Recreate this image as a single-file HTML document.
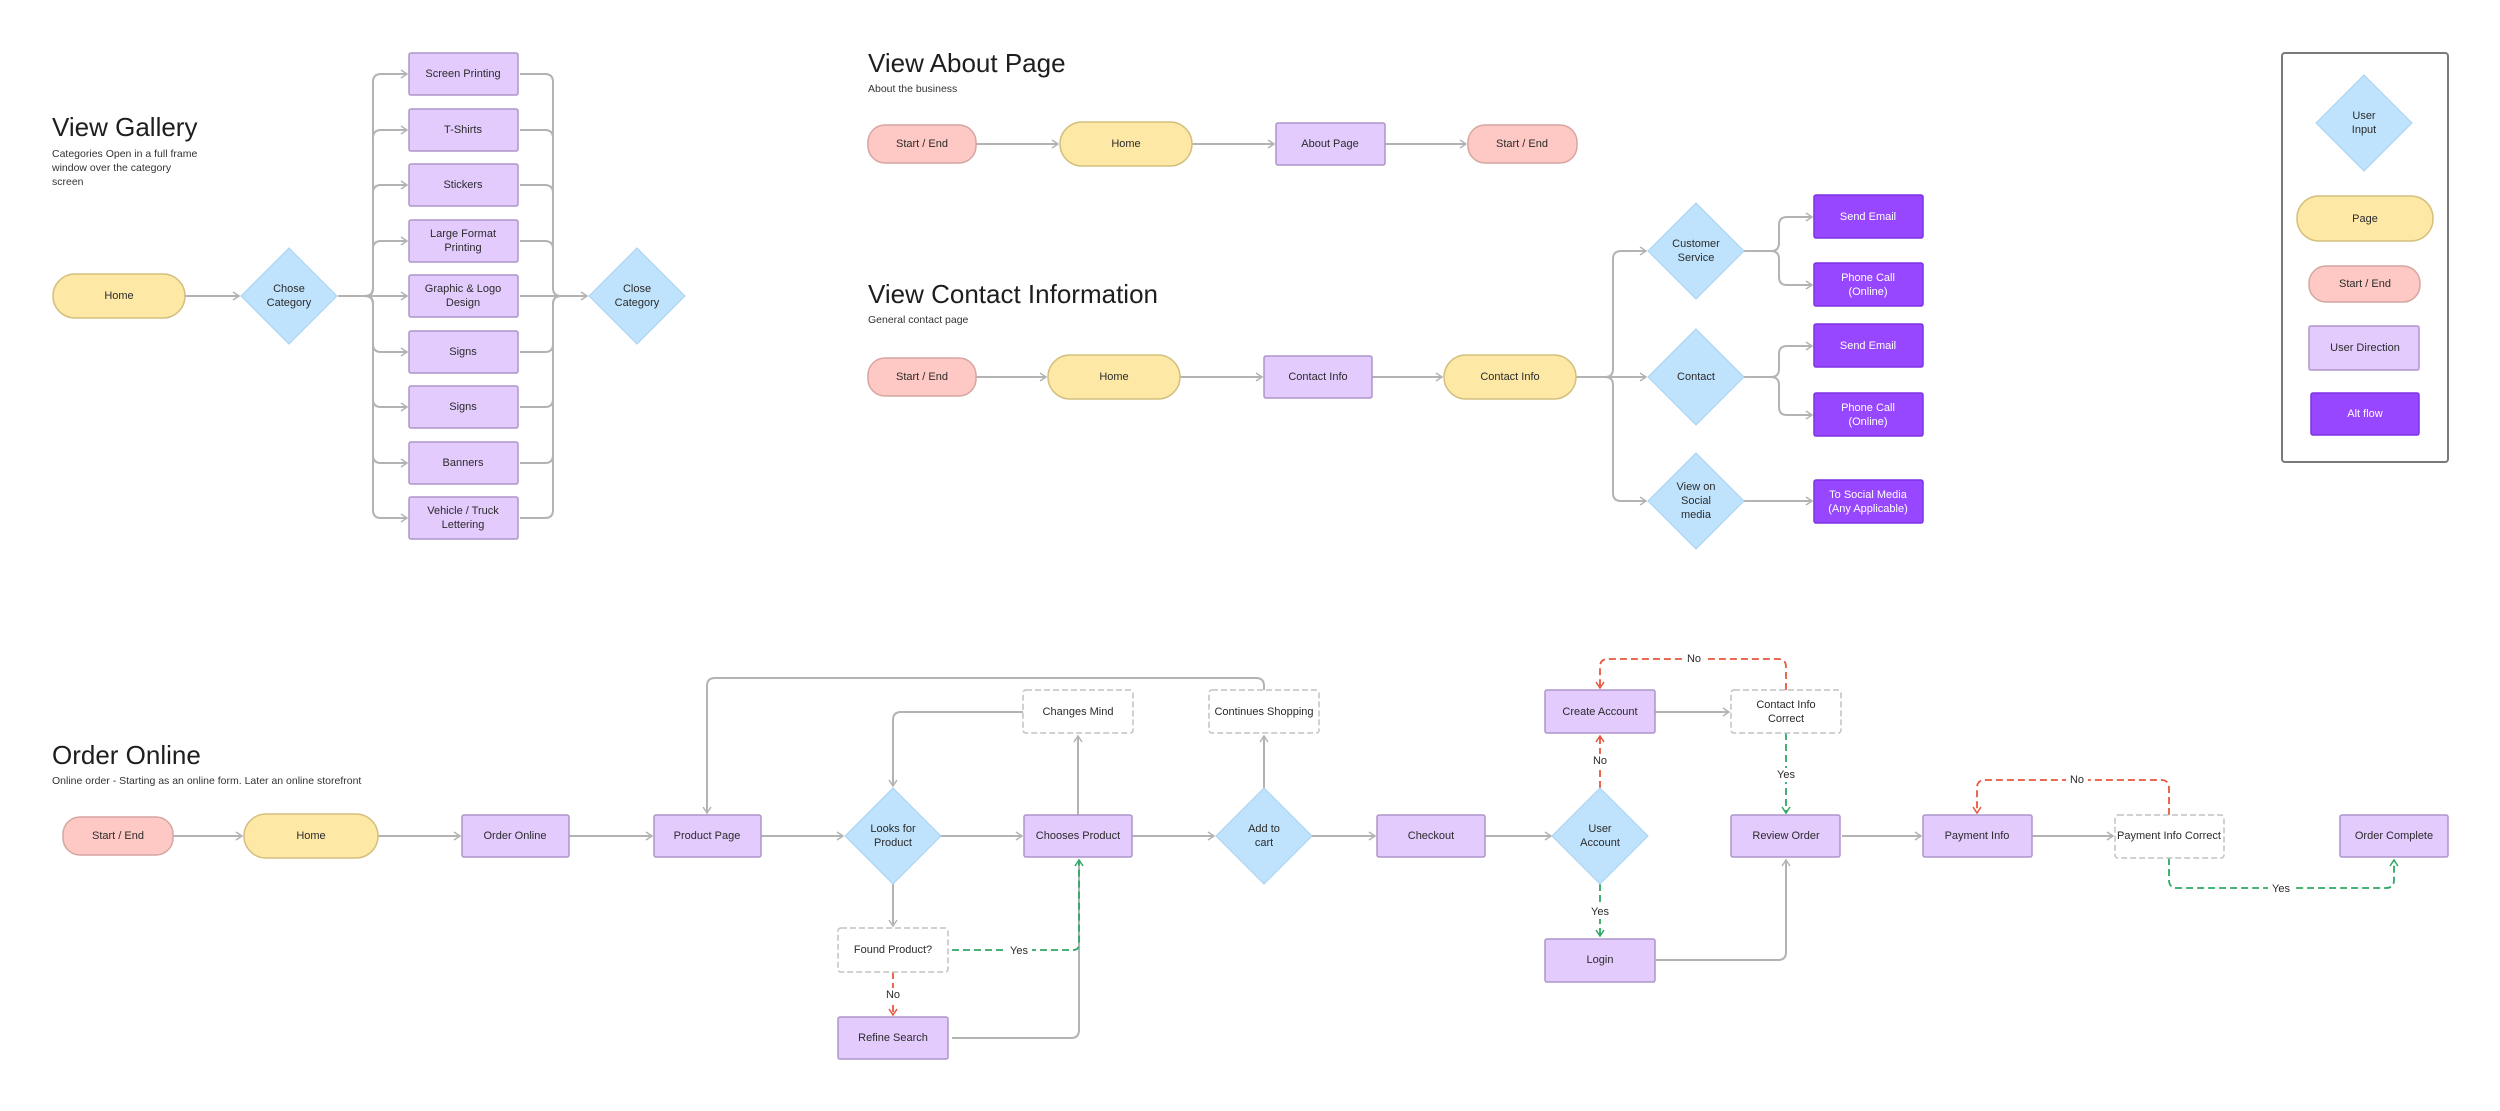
<!DOCTYPE html>
<html><head><meta charset="utf-8"><style>
html,body{margin:0;padding:0;background:#fff;}
svg{display:block;}
text{font-family:"Liberation Sans",sans-serif;fill:#2b2b2b;}
.t{font-size:11px;text-anchor:middle;dominant-baseline:middle;}
.w{fill:#fff;}
.h{font-size:26px;fill:#1e1e1e;}
.s{font-size:10.5px;fill:#333;}
.l{fill:none;stroke:#b3b3b3;stroke-width:2;}
.r{fill:none;stroke:#e5573d;stroke-width:1.8;stroke-dasharray:7 4;}
.g{fill:none;stroke:#2fa864;stroke-width:1.8;stroke-dasharray:7 4;}
.pk{fill:#fec9c4;stroke:#d5a6a1;stroke-width:1.5;}
.yl{fill:#fee8a6;stroke:#d4c07e;stroke-width:1.5;}
.pu{fill:#e3cbfd;stroke:#ad95c9;stroke-width:1.5;}
.dm{fill:#bfe3fd;stroke:#a8d2ef;stroke-width:1;}
.af{fill:#9747ff;stroke:#7e34e3;stroke-width:1.5;}
.db{fill:#fff;stroke:#c2c2c2;stroke-width:1.5;stroke-dasharray:6 3;}
.lbl{font-size:11px;text-anchor:middle;dominant-baseline:middle;}
</style></head><body>
<svg width="2500" height="1111" viewBox="0 0 2500 1111" xmlns="http://www.w3.org/2000/svg">
<defs>
<marker id="a" markerWidth="10" markerHeight="10" refX="7" refY="5" orient="auto" markerUnits="userSpaceOnUse"><path d="M1,1 L7,5 L1,9" fill="none" stroke="#b3b3b3" stroke-width="1.5"/></marker>
<marker id="ar" markerWidth="10" markerHeight="10" refX="7" refY="5" orient="auto" markerUnits="userSpaceOnUse"><path d="M1,1 L7,5 L1,9" fill="none" stroke="#e5573d" stroke-width="1.5"/></marker>
<marker id="ag" markerWidth="10" markerHeight="10" refX="7" refY="5" orient="auto" markerUnits="userSpaceOnUse"><path d="M1,1 L7,5 L1,9" fill="none" stroke="#2fa864" stroke-width="1.5"/></marker>
</defs>

<!-- ===== View Gallery ===== -->
<text class="h" x="52" y="136">View Gallery</text>
<text class="s" x="52" y="157">Categories Open in a full frame</text>
<text class="s" x="52" y="171">window over the category</text>
<text class="s" x="52" y="185">screen</text>

<path class="l" d="M185 296 H239" marker-end="url(#a)"/>
<g class="l">
<path d="M338 296 H365 Q373 296 373 288 V82 Q373 74 381 74 H407" marker-end="url(#a)"/>
<path d="M338 296 H365 Q373 296 373 288 V138 Q373 130 381 130 H407" marker-end="url(#a)"/>
<path d="M338 296 H365 Q373 296 373 288 V193 Q373 185 381 185 H407" marker-end="url(#a)"/>
<path d="M338 296 H365 Q373 296 373 288 V249 Q373 241 381 241 H407" marker-end="url(#a)"/>
<path d="M338 296 H407" marker-end="url(#a)"/>
<path d="M338 296 H365 Q373 296 373 304 V344 Q373 352 381 352 H407" marker-end="url(#a)"/>
<path d="M338 296 H365 Q373 296 373 304 V399 Q373 407 381 407 H407" marker-end="url(#a)"/>
<path d="M338 296 H365 Q373 296 373 304 V455 Q373 463 381 463 H407" marker-end="url(#a)"/>
<path d="M338 296 H365 Q373 296 373 304 V510 Q373 518 381 518 H407" marker-end="url(#a)"/>
<path d="M520 74 H545 Q553 74 553 82 V288 Q553 296 561 296 H587" marker-end="url(#a)"/>
<path d="M520 130 H545 Q553 130 553 138 V288"/>
<path d="M520 185 H545 Q553 185 553 193 V288"/>
<path d="M520 241 H545 Q553 241 553 249 V288"/>
<path d="M520 296 H587"/>
<path d="M520 352 H545 Q553 352 553 344 V304 Q553 296 561 296"/>
<path d="M520 407 H545 Q553 407 553 399 V304"/>
<path d="M520 463 H545 Q553 463 553 455 V304"/>
<path d="M520 518 H545 Q553 518 553 510 V304 Q553 296 561 296"/>
</g>
<rect class="yl" x="53" y="274" width="132" height="44" rx="22"/><text class="t" x="119" y="296">Home</text>
<polygon class="dm" points="289,248 337,296 289,344 241,296"/>
<text class="t" x="289" y="289">Chose</text><text class="t" x="289" y="303">Category</text>
<polygon class="dm" points="637,248 685,296 637,344 589,296"/>
<text class="t" x="637" y="289">Close</text><text class="t" x="637" y="303">Category</text>
<g>
<rect class="pu" x="409" y="53" width="109" height="42" rx="2"/><text class="t" x="463" y="74">Screen Printing</text>
<rect class="pu" x="409" y="109" width="109" height="42" rx="2"/><text class="t" x="463" y="130">T-Shirts</text>
<rect class="pu" x="409" y="164" width="109" height="42" rx="2"/><text class="t" x="463" y="185">Stickers</text>
<rect class="pu" x="409" y="220" width="109" height="42" rx="2"/><text class="t" x="463" y="234">Large Format</text><text class="t" x="463" y="248">Printing</text>
<rect class="pu" x="409" y="275" width="109" height="42" rx="2"/><text class="t" x="463" y="289">Graphic &amp; Logo</text><text class="t" x="463" y="303">Design</text>
<rect class="pu" x="409" y="331" width="109" height="42" rx="2"/><text class="t" x="463" y="352">Signs</text>
<rect class="pu" x="409" y="386" width="109" height="42" rx="2"/><text class="t" x="463" y="407">Signs</text>
<rect class="pu" x="409" y="442" width="109" height="42" rx="2"/><text class="t" x="463" y="463">Banners</text>
<rect class="pu" x="409" y="497" width="109" height="42" rx="2"/><text class="t" x="463" y="511">Vehicle / Truck</text><text class="t" x="463" y="525">Lettering</text>
</g>

<!-- ===== View About Page ===== -->
<text class="h" x="868" y="72">View About Page</text>
<text class="s" x="868" y="92">About the business</text>
<g class="l">
<path d="M976 144 H1058" marker-end="url(#a)"/>
<path d="M1192 144 H1274" marker-end="url(#a)"/>
<path d="M1385 144 H1466" marker-end="url(#a)"/>
</g>
<rect class="pk" x="868" y="125" width="108" height="38" rx="17"/><text class="t" x="922" y="144">Start / End</text>
<rect class="yl" x="1060" y="122" width="132" height="44" rx="22"/><text class="t" x="1126" y="144">Home</text>
<rect class="pu" x="1276" y="123" width="109" height="42" rx="2"/><text class="t" x="1330" y="144">About Page</text>
<rect class="pk" x="1468" y="125" width="109" height="38" rx="17"/><text class="t" x="1522" y="144">Start / End</text>

<!-- ===== View Contact Information ===== -->
<text class="h" x="868" y="303">View Contact Information</text>
<text class="s" x="868" y="323">General contact page</text>
<g class="l">
<path d="M976 377 H1046" marker-end="url(#a)"/>
<path d="M1180 377 H1262" marker-end="url(#a)"/>
<path d="M1372 377 H1442" marker-end="url(#a)"/>
<path d="M1576 377 H1646" marker-end="url(#a)"/>
<path d="M1576 377 H1605 Q1613 377 1613 369 V259 Q1613 251 1621 251 H1646" marker-end="url(#a)"/>
<path d="M1576 377 H1605 Q1613 377 1613 385 V493 Q1613 501 1621 501 H1646" marker-end="url(#a)"/>
<path d="M1744 251 H1771 Q1779 251 1779 243 V225 Q1779 217 1787 217 H1812" marker-end="url(#a)"/>
<path d="M1744 251 H1771 Q1779 251 1779 259 V277 Q1779 285 1787 285 H1812" marker-end="url(#a)"/>
<path d="M1744 377 H1771 Q1779 377 1779 369 V354 Q1779 346 1787 346 H1812" marker-end="url(#a)"/>
<path d="M1744 377 H1771 Q1779 377 1779 385 V407 Q1779 415 1787 415 H1812" marker-end="url(#a)"/>
<path d="M1744 501 H1812" marker-end="url(#a)"/>
</g>
<rect class="pk" x="868" y="358" width="108" height="38" rx="17"/><text class="t" x="922" y="377">Start / End</text>
<rect class="yl" x="1048" y="355" width="132" height="44" rx="22"/><text class="t" x="1114" y="377">Home</text>
<rect class="pu" x="1264" y="356" width="108" height="42" rx="2"/><text class="t" x="1318" y="377">Contact Info</text>
<rect class="yl" x="1444" y="355" width="132" height="44" rx="22"/><text class="t" x="1510" y="377">Contact Info</text>
<polygon class="dm" points="1696,203 1744,251 1696,299 1648,251"/>
<text class="t" x="1696" y="244">Customer</text><text class="t" x="1696" y="258">Service</text>
<polygon class="dm" points="1696,329 1744,377 1696,425 1648,377"/>
<text class="t" x="1696" y="377">Contact</text>
<polygon class="dm" points="1696,453 1744,501 1696,549 1648,501"/>
<text class="t" x="1696" y="487">View on</text><text class="t" x="1696" y="501">Social</text><text class="t" x="1696" y="515">media</text>
<rect class="af" x="1814" y="195" width="109" height="43" rx="2"/><text class="t w" x="1868" y="217">Send Email</text>
<rect class="af" x="1814" y="263" width="109" height="43" rx="2"/><text class="t w" x="1868" y="278">Phone Call</text><text class="t w" x="1868" y="292">(Online)</text>
<rect class="af" x="1814" y="324" width="109" height="43" rx="2"/><text class="t w" x="1868" y="346">Send Email</text>
<rect class="af" x="1814" y="393" width="109" height="43" rx="2"/><text class="t w" x="1868" y="408">Phone Call</text><text class="t w" x="1868" y="422">(Online)</text>
<rect class="af" x="1814" y="480" width="109" height="43" rx="2"/><text class="t w" x="1868" y="495">To Social Media</text><text class="t w" x="1868" y="509">(Any Applicable)</text>

<!-- ===== Legend ===== -->
<rect x="2282" y="53" width="166" height="409" rx="3" fill="#fff" stroke="#7a7a7a" stroke-width="2"/>
<polygon class="dm" points="2364,75 2412,123 2364,171 2316,123"/>
<text class="t" x="2364" y="116">User</text><text class="t" x="2364" y="130">Input</text>
<rect class="yl" x="2297" y="196" width="136" height="45" rx="22"/><text class="t" x="2365" y="219">Page</text>
<rect class="pk" x="2309" y="266" width="111" height="36" rx="17"/><text class="t" x="2365" y="284">Start / End</text>
<rect class="pu" x="2309" y="326" width="110" height="44" rx="2"/><text class="t" x="2365" y="348">User Direction</text>
<rect class="af" x="2311" y="393" width="108" height="42" rx="2"/><text class="t w" x="2365" y="414">Alt flow</text>

<!-- ===== Order Online ===== -->
<text class="h" x="52" y="764">Order Online</text>
<text class="s" x="52" y="784">Online order - Starting as an online form. Later an online storefront</text>
<g class="l">
<path d="M173 836 H242" marker-end="url(#a)"/>
<path d="M378 836 H460" marker-end="url(#a)"/>
<path d="M569 836 H652" marker-end="url(#a)"/>
<path d="M761 836 H843" marker-end="url(#a)"/>
<path d="M941 836 H1022" marker-end="url(#a)"/>
<path d="M1132 836 H1214" marker-end="url(#a)"/>
<path d="M1312 836 H1375" marker-end="url(#a)"/>
<path d="M1485 836 H1551" marker-end="url(#a)"/>
<path d="M1842 836 H1921" marker-end="url(#a)"/>
<path d="M2032 836 H2113" marker-end="url(#a)"/>
<path d="M1264 690 V686 Q1264 678 1256 678 H715 Q707 678 707 686 V813" marker-end="url(#a)"/>
<path d="M1023 712 H901 Q893 712 893 720 V786" marker-end="url(#a)"/>
<path d="M1078 815 V736" marker-end="url(#a)"/>
<path d="M1264 788 V736" marker-end="url(#a)"/>
<path d="M893 884 V926" marker-end="url(#a)"/>
<path d="M952 1038 H1071 Q1079 1038 1079 1030 V860"/>
<path d="M1655 712 H1729" marker-end="url(#a)"/>
<path d="M1656 960 H1778 Q1786 960 1786 952 V860" marker-end="url(#a)"/>
</g>
<path class="g" d="M952 950 H1073 Q1079 950 1079 944 V860" marker-end="url(#ag)"/>
<path class="r" d="M893 972 V1015" marker-end="url(#ar)"/>
<path class="r" d="M1600 788 V736" marker-end="url(#ar)"/>
<path class="g" d="M1600 884 V936" marker-end="url(#ag)"/>
<path class="r" d="M1786 690 V667 Q1786 659 1778 659 H1608 Q1600 659 1600 667 V688" marker-end="url(#ar)"/>
<path class="g" d="M1786 733 V813" marker-end="url(#ag)"/>
<path class="r" d="M2169 815 V788 Q2169 780 2161 780 H1985 Q1977 780 1977 788 V813" marker-end="url(#ar)"/>
<path class="g" d="M2169 858 V880 Q2169 888 2177 888 H2386 Q2394 888 2394 880 V860" marker-end="url(#ag)"/>

<rect x="1006" y="943" width="26" height="14" fill="#fff"/><text class="lbl" x="1019" y="951">Yes</text>
<rect x="882" y="988" width="22" height="14" fill="#fff"/><text class="lbl" x="893" y="995">No</text>
<rect x="1589" y="754" width="22" height="14" fill="#fff"/><text class="lbl" x="1600" y="761">No</text>
<rect x="1587" y="905" width="26" height="14" fill="#fff"/><text class="lbl" x="1600" y="912">Yes</text>
<rect x="1683" y="652" width="22" height="14" fill="#fff"/><text class="lbl" x="1694" y="659">No</text>
<rect x="1773" y="768" width="26" height="14" fill="#fff"/><text class="lbl" x="1786" y="775">Yes</text>
<rect x="2066" y="773" width="22" height="14" fill="#fff"/><text class="lbl" x="2077" y="780">No</text>
<rect x="2268" y="881" width="26" height="14" fill="#fff"/><text class="lbl" x="2281" y="889">Yes</text>

<rect class="pk" x="63" y="817" width="110" height="38" rx="17"/><text class="t" x="118" y="836">Start / End</text>
<rect class="yl" x="244" y="814" width="134" height="44" rx="22"/><text class="t" x="311" y="836">Home</text>
<rect class="pu" x="462" y="815" width="107" height="42" rx="2"/><text class="t" x="515" y="836">Order Online</text>
<rect class="pu" x="654" y="815" width="107" height="42" rx="2"/><text class="t" x="707" y="836">Product Page</text>
<polygon class="dm" points="893,788 941,836 893,884 845,836"/>
<text class="t" x="893" y="829">Looks for</text><text class="t" x="893" y="843">Product</text>
<rect class="pu" x="1024" y="815" width="108" height="42" rx="2"/><text class="t" x="1078" y="836">Chooses Product</text>
<polygon class="dm" points="1264,788 1312,836 1264,884 1216,836"/>
<text class="t" x="1264" y="829">Add to</text><text class="t" x="1264" y="843">cart</text>
<rect class="db" x="1023" y="690" width="110" height="43" rx="3"/><text class="t" x="1078" y="712">Changes Mind</text>
<rect class="db" x="1209" y="690" width="110" height="43" rx="3"/><text class="t" x="1264" y="712">Continues Shopping</text>
<rect class="db" x="838" y="928" width="110" height="44" rx="3"/><text class="t" x="893" y="950">Found Product?</text>
<rect class="pu" x="838" y="1017" width="110" height="42" rx="2"/><text class="t" x="893" y="1038">Refine Search</text>
<rect class="pu" x="1377" y="815" width="108" height="42" rx="2"/><text class="t" x="1431" y="836">Checkout</text>
<polygon class="dm" points="1600,788 1648,836 1600,884 1552,836"/>
<text class="t" x="1600" y="829">User</text><text class="t" x="1600" y="843">Account</text>
<rect class="pu" x="1545" y="690" width="110" height="43" rx="2"/><text class="t" x="1600" y="712">Create Account</text>
<rect class="db" x="1731" y="690" width="110" height="43" rx="3"/><text class="t" x="1786" y="705">Contact Info</text><text class="t" x="1786" y="719">Correct</text>
<rect class="pu" x="1545" y="939" width="110" height="43" rx="2"/><text class="t" x="1600" y="960">Login</text>
<rect class="pu" x="1731" y="815" width="109" height="42" rx="2"/><text class="t" x="1786" y="836">Review Order</text>
<rect class="pu" x="1923" y="815" width="109" height="42" rx="2"/><text class="t" x="1977" y="836">Payment Info</text>
<rect class="db" x="2115" y="815" width="109" height="43" rx="3"/><text class="t" x="2169" y="836">Payment Info Correct</text>
<rect class="pu" x="2340" y="815" width="108" height="42" rx="2"/><text class="t" x="2394" y="836">Order Complete</text>
</svg>
</body></html>
